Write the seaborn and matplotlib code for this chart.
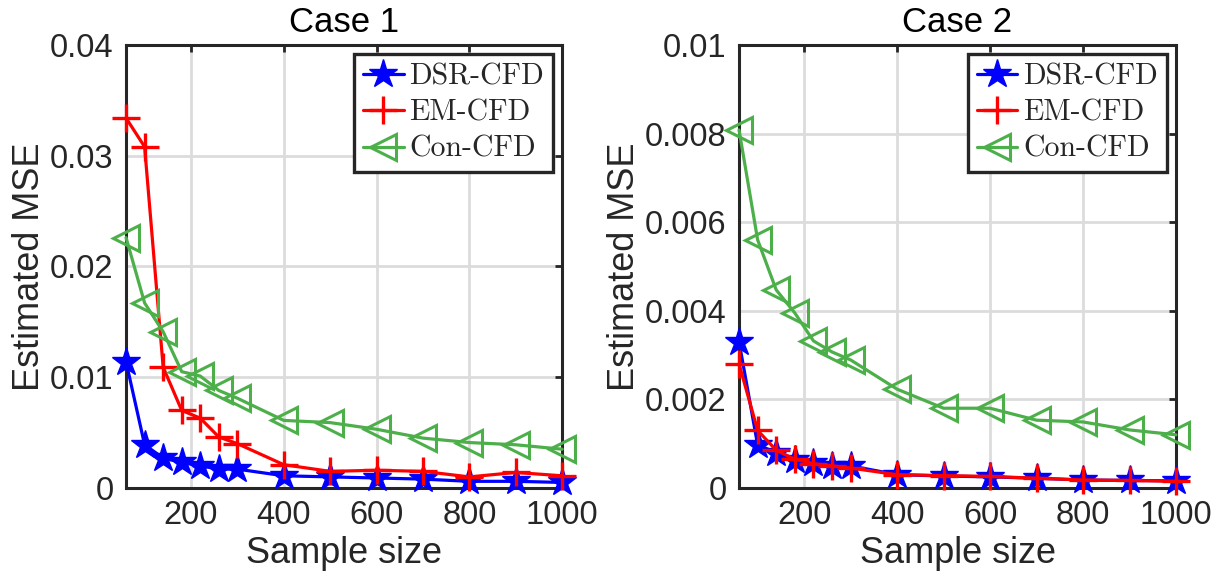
import numpy as np
import pandas as pd
import matplotlib
matplotlib.use("Agg")
import matplotlib.pyplot as plt
from matplotlib.ticker import FuncFormatter
import seaborn as sns

sample_size = [60, 100, 140, 180, 220, 260, 300, 400, 500, 600, 700, 800, 900, 1000]

# Case 1
case1_dsr = [0.0114, 0.0039, 0.0027, 0.0023, 0.0020, 0.0017, 0.0017, 0.0011, 0.0010, 0.0009, 0.0008, 0.0006, 0.0006, 0.0005]
case1_em = [0.0334, 0.0308, 0.0109, 0.0070, 0.0063, 0.0046, 0.0040, 0.0021, 0.0015, 0.0016, 0.0015, 0.0010, 0.0014, 0.0011]
case1_con = [0.0226, 0.0167, 0.0141, 0.0105, 0.0101, 0.0088, 0.0081, 0.0061, 0.0059, 0.0053, 0.0045, 0.0041, 0.0039, 0.0035]

# Case 2
case2_dsr = [0.0033, 0.00097, 0.00080, 0.00063, 0.00056, 0.00050, 0.00050, 0.00030, 0.00027, 0.00025, 0.00022, 0.00018, 0.00017, 0.00016]
case2_em = [0.0028, 0.0013, 0.00085, 0.00065, 0.00055, 0.00050, 0.00045, 0.00030, 0.00028, 0.00026, 0.00022, 0.00018, 0.00017, 0.00015]
case2_con = [0.00808, 0.0056, 0.00447, 0.00395, 0.00332, 0.00307, 0.00289, 0.00223, 0.0018, 0.0018, 0.00153, 0.00149, 0.00131, 0.0012]

methods = ["DSR-CFD", "EM-CFD", "Con-CFD"]
titles = ["Case 1", "Case 2"]
case1_yticks = [0, 0.01, 0.02, 0.03, 0.04]
case2_yticks = [0, 0.002, 0.004, 0.006, 0.008, 0.01]
xticks = [200, 400, 600, 800, 1000]

sns.set_style("white")
plt.rcParams['font.family'] = ['Liberation Sans', 'DejaVu Sans']

blue, red, green = (0, 0, 1), (1, 0, 0), "#4daf4a"
styles = {
    "DSR-CFD": dict(color=blue, marker="*", markersize=21, markerfacecolor=blue,
                    markeredgecolor=blue, markeredgewidth=1),
    "EM-CFD": dict(color=red, marker="+", markersize=20, markerfacecolor=red,
                   markeredgecolor=red, markeredgewidth=2.4),
    "Con-CFD": dict(color=green, marker="<", markersize=19, markerfacecolor="none",
                    markeredgecolor=green, markeredgewidth=2.2),
}

fig = plt.figure(figsize=(12.25, 5.83), dpi=100)
ax1 = fig.add_axes([0.1029, 0.163, 0.356, 0.760])
ax2 = fig.add_axes([0.6033, 0.163, 0.3567, 0.760])

cases = [
    (ax1, [case1_dsr, case1_em, case1_con], case1_yticks),
    (ax2, [case2_dsr, case2_em, case2_con], case2_yticks),
]

for (ax, series, yticks), title in zip(cases, titles):
    for name, vals in zip(methods, series):
        df = pd.DataFrame({"n": sample_size, "mse": vals})
        sns.lineplot(data=df, x="n", y="mse", ax=ax, label=name, linewidth=2.3,
                     linestyle="-", clip_on=False, zorder=3, **styles[name])
    ax.set_xlim(60, 1000)
    ax.set_ylim(yticks[0], yticks[-1])
    ax.set_xticks(xticks)
    ax.set_yticks(yticks)
    ax.yaxis.set_major_formatter(FuncFormatter(lambda v, p: f"{v:g}"))
    ax.grid(True, color="#dcdcdc", lw=2)
    ax.set_axisbelow(True)
    for sp in ax.spines.values():
        sp.set_visible(True)
        sp.set_color("#262626")
        sp.set_linewidth(2.2)
    ax.tick_params(direction="in", length=5, width=2, color="#262626",
                   labelsize=23.5, labelcolor="#262626", top=True, right=True)
    ax.tick_params(axis="x", pad=9)
    ax.tick_params(axis="y", pad=9)
    ax.set_xlabel("Sample size", fontsize=26, labelpad=3, color="#262626")
    ax.set_ylabel("Estimated MSE", fontsize=26, labelpad=2, color="#262626")
    ax.set_title(title, fontsize=25, pad=9, color="black")
    leg = ax.legend(loc="upper right", prop={"family": "cmr10", "size": 21.5},
                    fancybox=False, framealpha=1, edgecolor="#262626",
                    borderpad=0.3, labelspacing=0.3, handlelength=1.35,
                    handletextpad=0.2, borderaxespad=0.3)
    leg.get_frame().set_linewidth(2.4)
    leg.set_zorder(5)

fig.savefig("out.png", dpi=100)
